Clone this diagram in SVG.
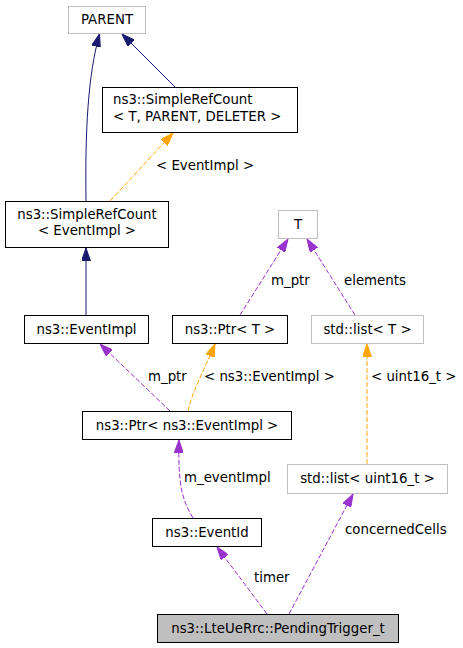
<svg xmlns="http://www.w3.org/2000/svg" width="463" height="648" viewBox="0 0 463 648">
<style>
text{font-family:"DejaVu Sans","Liberation Sans",sans-serif;font-size:13.33px;fill:#000}
.n rect{fill:#fff;stroke:#000;stroke-width:1}
.g rect{fill:#fff;stroke:#bfbfbf;stroke-width:1}
.m{text-anchor:middle}
.e{fill:none;stroke-width:1}
.nv{stroke:#191970}
.pu{stroke:#9a32cd;stroke-dasharray:5,2}
.or{stroke:#ffa500;stroke-dasharray:5,2}
</style>
<defs>
<marker id="aN" viewBox="0 0 13 9" refX="13" refY="4.5" markerWidth="13" markerHeight="9" markerUnits="userSpaceOnUse" orient="auto"><path d="M0,0L13,4.5L0,9z" fill="#191970" stroke="#191970"/></marker>
<marker id="aP" viewBox="0 0 13 9" refX="13" refY="4.5" markerWidth="13" markerHeight="9" markerUnits="userSpaceOnUse" orient="auto"><path d="M0,0L13,4.5L0,9z" fill="#9a32cd" stroke="#9a32cd"/></marker>
<marker id="aO" viewBox="0 0 13 9" refX="13" refY="4.5" markerWidth="13" markerHeight="9" markerUnits="userSpaceOnUse" orient="auto"><path d="M0,0L13,4.5L0,9z" fill="#ffa500" stroke="#ffa500"/></marker>
</defs>
<rect width="463" height="648" fill="#fff"/>
<g id="edges">
<path class="e nv" d="M86,201 C85,130 88,75 99.5,34" marker-end="url(#aN)"/>
<path class="e nv" d="M175,87 L122,34" marker-end="url(#aN)"/>
<path class="e or" d="M110,201 L173,133" marker-end="url(#aO)"/>
<path class="e nv" d="M86,315 L86,248" marker-end="url(#aN)"/>
<path class="e pu" d="M240,315 L288,239" marker-end="url(#aP)"/>
<path class="e pu" d="M355,315 L307,239" marker-end="url(#aP)"/>
<path class="e pu" d="M170,411 L100,344" marker-end="url(#aP)"/>
<path class="e or" d="M188,411 C192,392 205,368 215,344" marker-end="url(#aO)"/>
<path class="e or" d="M367,464 L367,344" marker-end="url(#aO)"/>
<path class="e pu" d="M193,518 C182,500 178,485 179,440" marker-end="url(#aP)"/>
<path class="e pu" d="M267,614 L217,547" marker-end="url(#aP)"/>
<path class="e pu" d="M289,614 L353,494" marker-end="url(#aP)"/>
<text x="156" y="170">&lt; EventImpl &gt;</text>
<text x="271" y="285">m_ptr</text>
<text x="344" y="285">elements</text>
<text x="148" y="381">m_ptr</text>
<text x="204" y="381">&lt; ns3::EventImpl &gt;</text>
<text x="371" y="381">&lt; uint16_t &gt;</text>
<text x="184" y="482">m_eventImpl</text>
<text x="345" y="534">concernedCells</text>
<text x="254" y="582">timer</text>
</g>
<g id="parent" class="g"><rect x="68.5" y="6.5" width="77" height="27"/><text class="m" x="107" y="24">PARENT</text></g>
<g id="simplerefcount_tpd" class="n"><rect x="102.5" y="87.5" width="195" height="45"/><text x="113" y="104">ns3::SimpleRefCount</text><text x="113" y="121">&lt; T, PARENT, DELETER &gt;</text></g>
<g id="simplerefcount_eventimpl" class="n"><rect x="5.5" y="201.5" width="163" height="46"/><text class="m" x="87" y="219">ns3::SimpleRefCount</text><text class="m" x="87" y="235">&lt; EventImpl &gt;</text></g>
<g id="t" class="g"><rect x="278.5" y="210.5" width="39" height="28"/><text class="m" x="298" y="229">T</text></g>
<g id="eventimpl" class="n"><rect x="24.5" y="315.5" width="124" height="28"/><text class="m" x="86.5" y="334">ns3::EventImpl</text></g>
<g id="ptr_t" class="n"><rect x="172.5" y="315.5" width="115" height="28"/><text class="m" x="230" y="334">ns3::Ptr&lt; T &gt;</text></g>
<g id="list_t" class="g"><rect x="311.5" y="315.5" width="112" height="28"/><text class="m" x="367.5" y="334">std::list&lt; T &gt;</text></g>
<g id="ptr_eventimpl" class="n"><rect x="82.5" y="411.5" width="209" height="28"/><text class="m" x="187" y="430">ns3::Ptr&lt; ns3::EventImpl &gt;</text></g>
<g id="list_uint16" class="g"><rect x="287.5" y="464.5" width="160" height="29"/><text class="m" x="367.5" y="483">std::list&lt; uint16_t &gt;</text></g>
<g id="eventid" class="n"><rect x="152.5" y="518.5" width="109" height="28"/><text class="m" x="207" y="537">ns3::EventId</text></g>
<g id="pendingtrigger" class="n"><rect x="157.5" y="614.5" width="241" height="28" style="fill:#bfbfbf"/><text class="m" x="278" y="633">ns3::LteUeRrc::PendingTrigger_t</text></g>
</svg>
